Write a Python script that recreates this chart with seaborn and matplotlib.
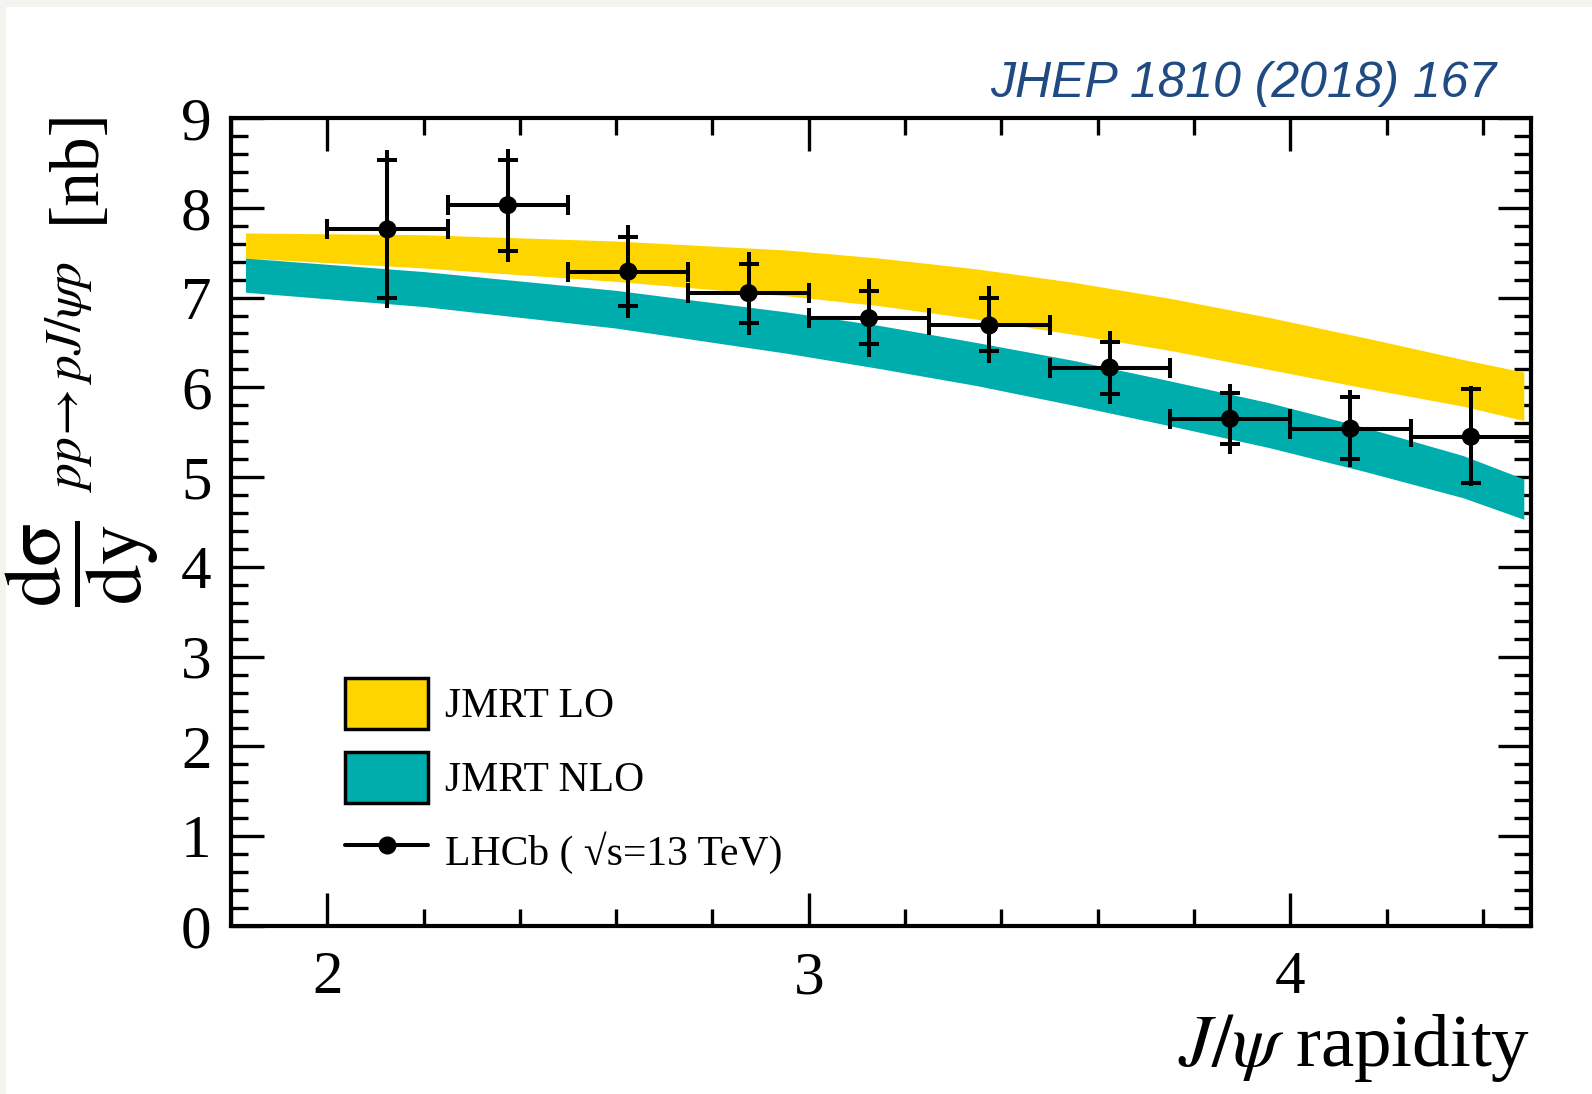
import numpy as np
import pandas as pd
import matplotlib
matplotlib.use("Agg")
import matplotlib.pyplot as plt
import seaborn as sns
from matplotlib.patches import Patch, Rectangle
from matplotlib.lines import Line2D
from matplotlib.ticker import MultipleLocator

# LHCb measurement (bin centres, half widths, values, errors)
y_centre = [2.125, 2.375, 2.625, 2.875, 3.125, 3.375, 3.625, 3.875, 4.125, 4.375]
y_halfwidth = [0.125] * 10
xsec = [7.76, 8.03, 7.29, 7.05, 6.77, 6.69, 6.22, 5.65, 5.54, 5.45]
tot_up = [8.64, 8.66, 7.81, 7.51, 7.21, 7.13, 6.63, 6.04, 5.97, 6.01]
tot_dn = [6.88, 7.40, 6.77, 6.58, 6.34, 6.27, 5.81, 5.26, 5.11, 4.90]
stat_up = [8.53, 8.53, 7.68, 7.37, 7.07, 6.99, 6.51, 5.94, 5.89, 5.98]
stat_dn = [7.00, 7.52, 6.91, 6.72, 6.48, 6.41, 5.93, 5.37, 5.20, 4.94]

# JMRT theory bands
band_x = [1.83, 2.2, 2.6, 2.954, 3.146, 3.348, 3.55, 3.752, 3.955, 4.157, 4.359, 4.485]
lo_hi = [7.72, 7.70, 7.63, 7.53, 7.44, 7.32, 7.17, 6.99, 6.78, 6.55, 6.31, 6.17]
lo_lo = [7.44, 7.33, 7.18, 7.02, 6.91, 6.76, 6.59, 6.41, 6.20, 5.99, 5.79, 5.63]
nlo_hi = [7.44, 7.29, 7.08, 6.84, 6.69, 6.50, 6.30, 6.07, 5.83, 5.55, 5.24, 4.98]
nlo_lo = [7.06, 6.90, 6.66, 6.38, 6.21, 6.02, 5.80, 5.57, 5.33, 5.06, 4.77, 4.53]

sns.set_theme(style="ticks")
plt.rcParams["font.family"] = ["Liberation Serif", "DejaVu Serif"]
plt.rcParams["mathtext.fontset"] = "stix"
plt.rcParams["text.color"] = "black"
plt.rcParams["xtick.color"] = "black"
plt.rcParams["ytick.color"] = "black"

yellow = "#ffd500"
teal = "#00adad"

fig = plt.figure(figsize=(15.92, 10.94), dpi=100)
fig.patch.set_facecolor("#f3f3ef")
fig.patches.append(Rectangle((6 / 1592, 0), 1, 1 - 7 / 1094, transform=fig.transFigure,
                             facecolor="white", edgecolor="none", zorder=-10))
ax = fig.add_axes([0.1451, 0.1536, 0.8166, 0.7385])
ax.set_facecolor("white")

ax.fill_between(band_x, lo_lo, lo_hi, color=yellow, lw=0, zorder=1)
ax.fill_between(band_x, nlo_lo, nlo_hi, color=teal, lw=0, zorder=2)

df = pd.DataFrame({"y": y_centre, "xsec": xsec})
err_lo = np.array(xsec) - np.array(tot_dn)
err_hi = np.array(tot_up) - np.array(xsec)
st_lo = np.array(xsec) - np.array(stat_dn)
st_hi = np.array(stat_up) - np.array(xsec)

lw = 2.9
ax.errorbar(y_centre, xsec, xerr=y_halfwidth, fmt="none", ecolor="black",
            elinewidth=lw, capsize=7, capthick=lw, zorder=4)
ax.errorbar(y_centre, xsec, yerr=[err_lo, err_hi], fmt="none", ecolor="black",
            elinewidth=lw, capsize=0, zorder=4)
ax.errorbar(y_centre, xsec, yerr=[st_lo, st_hi], fmt="none", ecolor="black",
            elinewidth=0, capsize=7, capthick=lw, zorder=4)
sns.scatterplot(data=df, x="y", y="xsec", color="black", s=170, edgecolor="none",
                ax=ax, zorder=5, legend=False)

ax.set_xlim(1.8, 4.5)
ax.set_ylim(0, 9)
ax.xaxis.set_major_locator(MultipleLocator(1))
ax.xaxis.set_minor_locator(MultipleLocator(0.2))
ax.yaxis.set_major_locator(MultipleLocator(1))
ax.yaxis.set_minor_locator(MultipleLocator(0.2))
ax.tick_params(which="both", direction="in", top=True, right=True, width=2.4, color="black")
ax.tick_params(which="major", length=24, labelsize=44, pad=14)
ax.tick_params(which="minor", length=12)
ax.tick_params(axis="x", which="major", pad=18)
for s in ax.spines.values():
    s.set_linewidth(3)
    s.set_color("black")

ax.set_xlabel("")
ax.set_ylabel("")
fig.text(0.9610, 0.026, r"$J/\psi$ rapidity", ha="right", va="baseline", fontsize=54)

# y label pieces
fig.text(0.052, 0.485, r"$\dfrac{\mathrm{dσ}}{\mathrm{dy}}$", rotation=90,
         ha="center", va="center", fontsize=58)
fig.text(0.0433, 0.656, r"$pp\!\rightarrow pJ/\psi p$", rotation=90,
         ha="center", va="center", fontsize=37)
fig.text(0.0484, 0.849, "[nb]", rotation=90, ha="center", va="center", fontsize=50)

fig.text(1496 / 1592, 1 - 97 / 1094, "JHEP 1810 (2018) 167", ha="right", va="baseline",
         fontsize=36, style="italic", color="#1f4a82", family="Liberation Sans")

handles = [
    Patch(facecolor=yellow, edgecolor="black", linewidth=2.5, label="JMRT LO"),
    Patch(facecolor=teal, edgecolor="black", linewidth=2.5, label="JMRT NLO"),
    Line2D([], [], color="black", lw=2.9, marker="o", markersize=12, label="LHCb ( √s=13 TeV)"),
]
ax.legend(handles=handles, loc="lower left", bbox_to_anchor=(0.0877, 0.0615), frameon=False,
          fontsize=30, handlelength=2.0, handleheight=1.5, labelspacing=0.55,
          handletextpad=0.4, borderpad=0, borderaxespad=0)

fig.savefig("out.png", dpi=100, facecolor=fig.get_facecolor())
